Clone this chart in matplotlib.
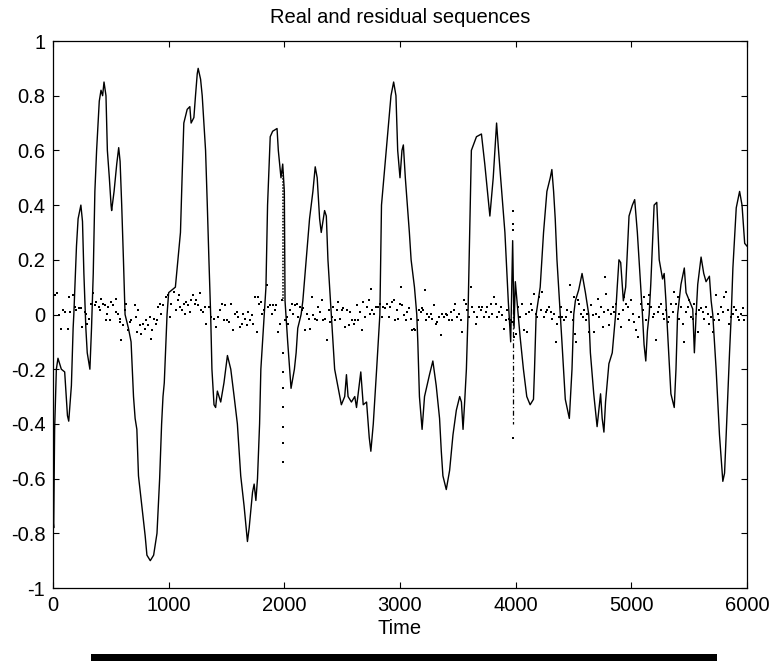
import numpy as np
import matplotlib
matplotlib.use("Agg")
import matplotlib.pyplot as plt
from matplotlib.patches import Rectangle

plt.rcParams['font.family'] = ['Liberation Sans', 'DejaVu Sans']

# real sequence, vertices
real_t = [0, 6, 14, 29, 43, 72, 101, 125, 136, 159, 174, 180, 203, 217, 241, 255, 267, 284, 296, 319,
          333, 348, 362, 377, 400, 415, 429, 441, 458, 470, 487, 502, 507, 528, 551, 568, 580, 594, 609, 623,
          652, 675, 696, 710, 725, 739, 768, 797, 812, 841, 870, 899, 922, 939, 951, 962, 986, 1000, 1058, 1102,
          1116, 1131, 1160, 1183, 1194, 1218, 1232, 1247, 1255, 1276, 1290, 1319, 1334, 1348, 1363, 1374, 1392, 1406, 1421, 1450,
          1478, 1508, 1537, 1566, 1594, 1623, 1652, 1681, 1696, 1725, 1739, 1754, 1768, 1786, 1797, 1826, 1841, 1855, 1878, 1899,
          1937, 1948, 1971, 1986, 2000, 2006, 2029, 2058, 2087, 2102, 2116, 2145, 2160, 2189, 2218, 2247, 2267, 2284, 2305, 2319,
          2348, 2363, 2377, 2406, 2435, 2493, 2522, 2537, 2551, 2580, 2609, 2624, 2661, 2682, 2711, 2734, 2748, 2769, 2798, 2826,
          2840, 2922, 2945, 2965, 2980, 3000, 3017, 3029, 3046, 3081, 3096, 3125, 3145, 3154, 3168, 3191, 3212, 3255, 3284, 3313,
          3342, 3357, 3371, 3400, 3429, 3458, 3487, 3516, 3531, 3545, 3559, 3574, 3588, 3617, 3661, 3704, 3733, 3777, 3806, 3835,
          3852, 3870, 3907, 3936, 3957, 3974, 3986, 3997, 4038, 4067, 4096, 4125, 4154, 4163, 4177, 4212, 4241, 4270, 4299, 4313,
          4328, 4342, 4357, 4386, 4400, 4429, 4464, 4487, 4502, 4516, 4545, 4574, 4603, 4632, 4646, 4675, 4704, 4719, 4734, 4748,
          4763, 4777, 4806, 4835, 4864, 4878, 4893, 4908, 4931, 4951, 4980, 5009, 5029, 5052, 5081, 5096, 5110, 5125, 5139, 5154,
          5168, 5197, 5220, 5241, 5270, 5284, 5299, 5313, 5342, 5371, 5386, 5400, 5429, 5458, 5473, 5502, 5531, 5545, 5560, 5574,
          5603, 5626, 5646, 5675, 5690, 5704, 5733, 5762, 5791, 5806, 5820, 5849, 5864, 5878, 5907, 5936, 5957, 5980, 6000]
real_v = [-0.75, -0.78, -0.42, -0.20, -0.16, -0.20, -0.21, -0.37, -0.39, -0.26, -0.05, 0.0, 0.25, 0.35, 0.40, 0.34, 0.15, -0.05, -0.14, -0.20,
          -0.05, 0.15, 0.45, 0.60, 0.78, 0.82, 0.80, 0.85, 0.80, 0.60, 0.50, 0.40, 0.38, 0.45, 0.55, 0.61, 0.56, 0.40, 0.20, 0.0,
          -0.05, -0.10, -0.30, -0.38, -0.42, -0.59, -0.70, -0.81, -0.88, -0.90, -0.88, -0.80, -0.60, -0.40, -0.30, -0.25, 0.0, 0.08, 0.10, 0.30,
          0.50, 0.70, 0.75, 0.76, 0.70, 0.72, 0.80, 0.88, 0.90, 0.86, 0.80, 0.60, 0.40, 0.20, 0.0, -0.20, -0.33, -0.34, -0.28, -0.32,
          -0.25, -0.15, -0.20, -0.30, -0.40, -0.59, -0.70, -0.83, -0.78, -0.65, -0.62, -0.68, -0.60, -0.40, -0.20, 0.0, 0.10, 0.40, 0.65, 0.67,
          0.68, 0.60, 0.50, 0.55, 0.45, 0.05, -0.10, -0.27, -0.20, -0.14, -0.05, 0.0, 0.05, 0.20, 0.35, 0.45, 0.54, 0.50, 0.35, 0.30,
          0.38, 0.36, 0.20, 0.0, -0.20, -0.33, -0.30, -0.22, -0.30, -0.32, -0.30, -0.34, -0.21, -0.33, -0.32, -0.45, -0.50, -0.40, -0.20, 0.0,
          0.40, 0.80, 0.85, 0.80, 0.60, 0.50, 0.60, 0.62, 0.50, 0.30, 0.20, 0.10, 0.0, -0.10, -0.30, -0.42, -0.30, -0.22, -0.17, -0.26,
          -0.38, -0.50, -0.59, -0.64, -0.57, -0.44, -0.35, -0.30, -0.32, -0.42, -0.32, -0.20, 0.0, 0.60, 0.65, 0.66, 0.55, 0.36, 0.50, 0.70,
          0.60, 0.50, 0.30, 0.05, -0.10, 0.27, -0.05, 0.12, -0.08, -0.20, -0.30, -0.33, -0.31, -0.20, 0.0, 0.10, 0.30, 0.45, 0.50, 0.53,
          0.45, 0.35, 0.20, 0.0, -0.10, -0.31, -0.38, -0.20, 0.0, 0.05, 0.09, 0.15, 0.08, 0.0, -0.14, -0.29, -0.41, -0.35, -0.29, -0.38,
          -0.43, -0.32, -0.18, -0.14, 0.0, 0.10, 0.20, 0.19, 0.05, 0.10, 0.36, 0.40, 0.42, 0.30, 0.10, 0.0, -0.11, -0.17, -0.06, 0.0,
          0.11, 0.40, 0.41, 0.20, 0.13, 0.15, 0.05, -0.06, -0.29, -0.34, -0.20, 0.0, 0.11, 0.17, 0.08, 0.05, 0.02, -0.14, 0.0, 0.11,
          0.21, 0.15, 0.12, 0.14, 0.05, 0.0, -0.20, -0.44, -0.61, -0.58, -0.44, -0.14, 0.0, 0.17, 0.39, 0.45, 0.40, 0.26, 0.25]

# residual sequence, dots
res_t = [15, 35, 52, 72, 87, 101, 130, 139, 150, 173, 188, 202, 225, 245, 254, 274, 289, 294, 312, 332,
         346, 361, 375, 398, 410, 418, 433, 447, 456, 467, 476, 490, 505, 519, 542, 548, 563, 577, 583, 591,
         606, 620, 635, 649, 663, 678, 707, 715, 727, 735, 750, 764, 779, 793, 808, 822, 836, 851, 859, 871,
         888, 900, 908, 923, 937, 952, 980, 995, 1009, 1024, 1044, 1061, 1081, 1090, 1102, 1119, 1130, 1139, 1154, 1168,
         1182, 1197, 1211, 1226, 1240, 1254, 1269, 1283, 1298, 1312, 1327, 1350, 1370, 1390, 1407, 1427, 1442, 1465, 1476,
         1488, 1502, 1522, 1540, 1560, 1574, 1589, 1603, 1618, 1632, 1646, 1661, 1675, 1690, 1704, 1718, 1733, 1747, 1762,
         1776, 1782, 1799, 1811, 1828, 1848, 1863, 1877, 1891, 1906, 1920, 1929, 1949, 1964, 1978, 2007, 2021, 2036,
         2050, 2064, 2079, 2093, 2108, 2122, 2137, 2151, 2165, 2180, 2194, 2209, 2223, 2237, 2252, 2266, 2281, 2295, 2310, 2324,
         2338, 2353, 2367, 2382, 2396, 2410, 2425, 2439, 2454, 2468, 2482, 2497, 2511, 2526, 2540, 2555, 2569, 2583, 2598, 2612,
         2627, 2641, 2655, 2670, 2684, 2699, 2713, 2728, 2742, 2751, 2762, 2779, 2794, 2814, 2828, 2843, 2857, 2872, 2886, 2901,
         2915, 2929, 2944, 2958, 2970, 2982, 2999, 3010, 3019, 3033, 3048, 3062, 3077, 3091, 3106, 3120, 3134, 3155, 3163,
         3178, 3192, 3201, 3212, 3221, 3235, 3250, 3264, 3279, 3293, 3307, 3322, 3336, 3351, 3365, 3379, 3394, 3408, 3423, 3437,
         3452, 3466, 3475, 3495, 3509, 3524, 3538, 3552, 3567, 3581, 3596, 3616, 3625, 3639, 3653, 3668, 3682, 3697, 3711, 3725,
         3740, 3754, 3769, 3783, 3797, 3812, 3826, 3841, 3855, 3870, 3884, 3898, 3913, 3927, 3942, 3956, 3970, 3985, 3999, 4019,
         4037, 4057, 4071, 4086, 4100, 4115, 4129, 4143, 4158, 4172, 4187, 4201, 4216, 4230, 4244, 4259, 4273, 4288, 4302, 4316,
         4331, 4345, 4360, 4374, 4389, 4403, 4417, 4432, 4446, 4469, 4477, 4492, 4506, 4515, 4520, 4535, 4549, 4564, 4578,
         4593, 4607, 4621, 4636, 4650, 4665, 4679, 4693, 4708, 4722, 4737, 4751, 4766, 4774, 4780, 4794, 4809, 4823, 4838, 4852,
         4866, 4881, 4895, 4910, 4924, 4939, 4953, 4967, 4982, 4996, 5011, 5025, 5039, 5054, 5068, 5083, 5097, 5112, 5126, 5140,
         5155, 5169, 5184, 5198, 5212, 5227, 5241, 5256, 5270, 5285, 5299, 5313, 5328, 5342, 5357, 5371, 5385, 5400, 5414, 5429,
         5443, 5458, 5472, 5486, 5501, 5515, 5530, 5544, 5558, 5573, 5587, 5602, 5616, 5630, 5645, 5659, 5674, 5688, 5703, 5717,
         5731, 5746, 5760, 5775, 5789, 5803, 5818, 5832, 5847, 5861, 5876, 5890, 5904, 5919, 5933, 5948, 5962, 5976]
res_v = [0.070, 0.077, -0.003, -0.052, 0.016, 0.009, -0.052, 0.064, 0.009, 0.070, 0.028, 0.016, 0.022, 0.022, -0.045, 0.009, 0.003, -0.033, -0.015, 0.040,
         0.077, 0.034, 0.046, 0.028, 0.016, 0.058, 0.040, 0.034, -0.021, 0.003, 0.028, -0.021, 0.046, 0.034, 0.058, 0.009, 0.003, -0.027, -0.015, -0.094,
         -0.039, 0.016, 0.040, -0.058, -0.027, -0.021, 0.034, -0.009, -0.064, 0.016, -0.039, -0.070, -0.033, -0.052, -0.021, -0.039, -0.009, -0.088, -0.058, -0.015,
         -0.033, -0.021, 0.028, 0.040, 0.003, 0.034, 0.064, 0.070, -0.009, 0.040, 0.083, 0.016, 0.052, 0.070, 0.028, 0.016, 0.040, 0.003, 0.046, 0.034,
         0.009, 0.052, 0.070, 0.040, 0.052, 0.034, 0.077, 0.016, 0.009, 0.028, -0.033, 0.028, -0.009, -0.015, -0.045, -0.009, 0.016, 0.040, -0.021,
         0.034, -0.021, -0.027, 0.040, -0.058, 0.003, 0.009, -0.009, -0.045, -0.033, 0.003, -0.015, -0.039, 0.009, -0.021, -0.003, -0.033, 0.064, -0.064,
         0.064, 0.040, 0.046, 0.003, 0.016, 0.107, 0.028, 0.034, 0.003, 0.034, 0.016, 0.034, -0.064, -0.033, 0.052, -0.021, -0.009, -0.033,
         0.016, 0.040, 0.003, 0.034, 0.040, -0.009, 0.028, 0.016, 0.022, -0.058, 0.003, -0.015, -0.052, 0.064, -0.003, -0.015, -0.021, 0.028, 0.009, 0.052,
         -0.021, -0.015, -0.094, 0.016, -0.027, -0.009, 0.028, -0.021, 0.016, 0.046, -0.015, 0.016, 0.022, -0.045, 0.016, -0.039, 0.009, -0.021, -0.033, -0.021,
         0.034, -0.021, 0.009, -0.058, 0.046, -0.009, 0.028, 0.052, 0.003, 0.095, 0.016, 0.003, 0.028, 0.028, 0.040, -0.009, 0.028, 0.022, 0.040, -0.009,
         0.028, 0.046, 0.052, -0.021, 0.016, -0.015, 0.040, 0.101, 0.034, -0.003, -0.021, 0.009, 0.022, -0.015, -0.058, -0.052, -0.058, -0.021, 0.016,
         0.009, 0.022, 0.016, 0.089, -0.021, 0.003, -0.009, 0.003, -0.015, 0.034, -0.033, -0.027, -0.009, -0.076, 0.003, -0.009, 0.003, -0.003, -0.021, 0.009,
         -0.021, 0.016, 0.040, -0.009, 0.003, -0.021, -0.064, 0.052, 0.040, 0.016, -0.009, 0.101, 0.028, 0.009, -0.033, -0.009, 0.028, 0.016, 0.028, -0.009,
         0.009, 0.028, -0.009, 0.040, 0.003, 0.064, 0.040, -0.009, 0.009, 0.028, -0.003, -0.052, -0.021, 0.016, -0.015, -0.021, -0.027, -0.082, -0.070, 0.028,
         -0.009, 0.040, -0.058, 0.003, -0.064, 0.009, 0.040, 0.016, 0.076, 0.003, -0.009, 0.064, 0.016, 0.083, -0.009, 0.009, 0.016, 0.028, 0.009, -0.015,
         0.003, -0.100, -0.033, -0.009, 0.028, -0.009, -0.021, -0.009, 0.016, 0.107, 0.009, -0.021, 0.064, -0.070, -0.100, 0.052, 0.040, 0.003, -0.009,
         0.016, -0.021, 0.003, -0.064, 0.034, -0.003, -0.064, 0.003, 0.058, -0.009, 0.028, -0.045, 0.009, 0.137, 0.076, 0.016, -0.039, 0.003, 0.028, 0.009,
         0.040, -0.015, 0.003, -0.045, 0.016, 0.064, 0.040, 0.028, -0.021, 0.052, 0.003, -0.027, -0.058, -0.082, -0.009, 0.040, 0.016, 0.064, -0.021, 0.040,
         0.070, 0.028, -0.009, 0.003, -0.094, 0.009, 0.028, 0.040, 0.003, -0.015, 0.016, -0.027, -0.009, 0.040, 0.009, 0.083, 0.040, 0.064, -0.015, 0.028,
         -0.033, -0.100, 0.009, 0.028, 0.052, -0.009, -0.015, 0.040, 0.003, -0.064, 0.016, 0.022, 0.009, -0.015, 0.028, 0.003, -0.033, -0.009, -0.064, -0.021,
         0.070, 0.003, -0.021, 0.028, 0.009, 0.064, 0.083, 0.016, -0.033, -0.009, 0.003, 0.028, 0.016, -0.009, -0.021, 0.003, 0.022, -0.021]

# residual spikes near t = 2000 and t = 4000
spike1_line_t = [1990, 1990]
spike1_line_v = [0.52, 0.05]
spike1_dot_t = [1987, 1987, 1987, 1987, 1987, 1987, 1987]
spike1_dot_v = [-0.14, -0.21, -0.27, -0.34, -0.41, -0.47, -0.54]
spike2_line_t = [3975, 3975]
spike2_line_v = [0.02, -0.40]
spike2_dot_t = [3975, 3975, 3975, 3975]
spike2_dot_v = [0.38, 0.33, 0.31, -0.45]

xticks = [0, 1000, 2000, 3000, 4000, 5000, 6000]
yticks = [-1, -0.8, -0.6, -0.4, -0.2, 0, 0.2, 0.4, 0.6, 0.8, 1]
ylabels = ['-1', '-0.8', '-0.6', '-0.4', '-0.2', '0', '0.2', '0.4', '0.6', '0.8', '1']

fs = 14.5
dot_ms = 1.8

fig = plt.figure(figsize=(7.73, 6.62), dpi=100)
ax = fig.add_axes([53 / 773, 1 - 588 / 662, 694 / 773, 547 / 662])

ax.plot(real_t, real_v, color='k', lw=1.0)
ax.plot(res_t, res_v, 's', color='k', ms=dot_ms, mew=0)
ax.plot(spike1_line_t, spike1_line_v, color='k', lw=1.1, ls=(0, (1, 1)))
ax.plot(spike1_dot_t, spike1_dot_v, 's', color='k', ms=dot_ms, mew=0)
ax.plot(spike2_line_t, spike2_line_v, color='k', lw=0.9, ls=(0, (4, 2, 1, 2)))
ax.plot(spike2_dot_t, spike2_dot_v, 's', color='k', ms=dot_ms, mew=0)

ax.set_xlim(0, 6000)
ax.set_ylim(-1, 1)
ax.set_xticks(xticks)
ax.set_yticks(yticks)
ax.set_yticklabels(ylabels)
ax.tick_params(direction='in', top=True, right=True, length=4.5, width=0.8,
               labelsize=fs, colors='k')
ax.tick_params(axis='y', pad=5.5)
ax.tick_params(axis='x', pad=6)
for s in ax.spines.values():
    s.set_linewidth(0.9)

ax.set_title('Real and residual sequences', fontsize=fs, pad=13)
ax.set_xlabel('Time', fontsize=fs, labelpad=3)

# thick bar under the axes
fig.patches.append(Rectangle((91 / 773, 1 - 661 / 662), 626 / 773, 7 / 662,
                             transform=fig.transFigure, color='k', lw=0))

fig.savefig('out.png', dpi=100)
